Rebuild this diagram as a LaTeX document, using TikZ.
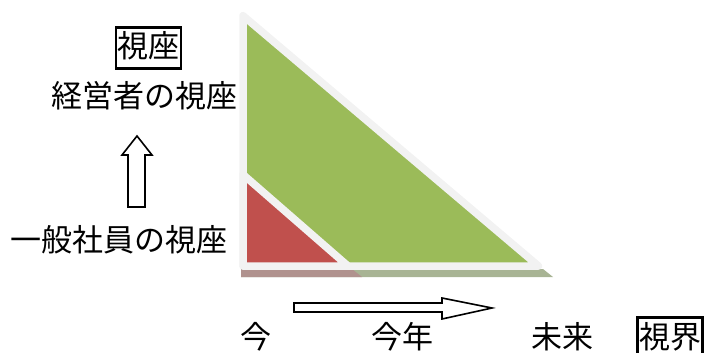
\documentclass[tikz,border=0pt]{standalone}
\usepackage{fontspec}
\setmainfont{Noto Sans CJK JP}
\begin{document}
\begin{tikzpicture}[x=1pt,y=-1pt,
  lbl/.style={inner sep=0pt, font=\fontsize{31}{31}\selectfont, text height=23pt, text depth=3pt},
  boxlbl/.style={lbl, draw=black, line width=2.5pt, inner xsep=1.5pt, inner ysep=7.5pt},
  tri/.style={draw=white!95!black, line width=7.5pt, line join=round},
  blockarrow/.style={draw=black, line width=1.6pt, fill=white, line join=miter}]
\useasboundingbox (0,0) rectangle (705,353);
\definecolor{grn}{RGB}{155,187,89}
\definecolor{rd}{RGB}{192,80,77}
\definecolor{grnsh}{RGB}{168,180,148}
\definecolor{rdsh}{RGB}{176,146,142}
% shadows
\fill[grnsh] (241,269) -- (543,269) -- (553,277) -- (241,277) -- cycle;
\fill[rdsh] (241,269) -- (352,269) -- (362,277) -- (241,277) -- cycle;
% triangles
\draw[tri, fill=grn] (243,15.7) -- (243,266) -- (538.5,266) -- cycle;
\draw[tri, fill=rd] (243,174.5) -- (243,266) -- (348,266) -- cycle;
% labels
\node[boxlbl] (vz) at (148.5,48) {視座};
\node[lbl] (keiei) at (145,97) {経営者の視座};
\node[lbl] (ippan) at (119,241) {一般社員の視座};
\node[lbl] (ima) at (256,338) {今};
\node[lbl] (kotoshi) at (402,338) {今年};
\node[lbl] (mirai) at (562,338) {未来};
\node[boxlbl] (shikai) at (670,338) {視界};
% block arrows
\draw[blockarrow] (128,207) -- (128,155) -- (122,155) -- (137,136) -- (152,155) -- (145,155) -- (145,207) -- cycle;
\draw[blockarrow] (294,303) -- (442,303) -- (442,298) -- (492,308) -- (442,319) -- (442,312) -- (294,312) -- cycle;
\end{tikzpicture}
\end{document}
